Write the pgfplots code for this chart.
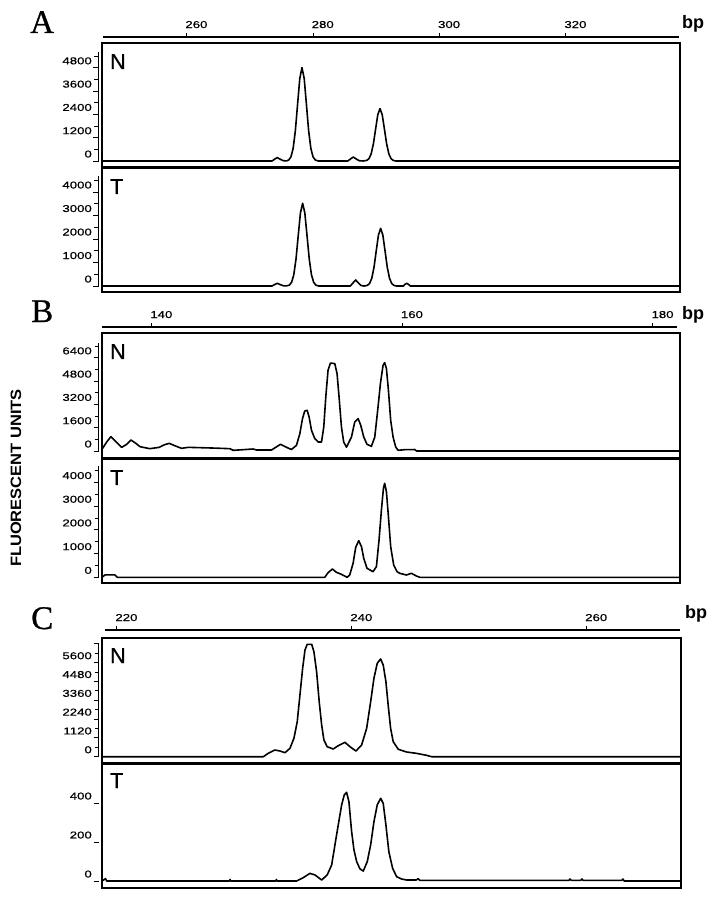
\documentclass[border=0pt]{standalone}
\usepackage{fontspec}
\setmainfont{Liberation Sans}
\newfontfamily\tickfont[FakeStretch=1.32, FakeBold=0.6]{Liberation Sans}
\newfontfamily\tagfont[FakeBold=0.8]{Liberation Sans}
\newfontfamily\panelfont[FakeBold=0.8]{Liberation Serif}
\newfontfamily\ylabfont[FakeStretch=1.1]{Liberation Sans}
\usepackage{pgfplots}
\pgfplotsset{compat=1.18}

\pgfplotsset{
  trace box/.style={
    scale only axis, anchor=north west, clip=false,
    axis line style={line width=1.8pt},
    xtick=\empty,
    ytick pos=left,
    tick align=outside,
    major tick length=5pt,
    minor tick length=4pt,
    every tick/.style={line width=0.9pt, black, xshift=-3.5pt},
    yticklabel style={font=\fontsize{10}{10}\tickfont, anchor=base east, inner sep=0pt, yshift=3.5pt, xshift=-5pt},
    scaled y ticks=false,
    /pgf/number format/1000 sep={},
    /pgf/number format/assume math mode=true,
  },
  trace/.style={black, line width=1.6pt, line join=round, no markers},
  bp axis/.style={
    scale only axis, anchor=north west, height=1pt,
    ymin=0, ymax=1, hide y axis,
    axis x line=top, x axis line style={-, line width=1.6pt},
    tick align=outside, major tick length=4pt,
    every tick/.style={line width=0.9pt, black},
    xticklabel style={font=\fontsize{10}{10}\tickfont, anchor=base west, inner sep=0pt, xshift=-1.5pt, yshift=5pt},
    /pgf/number format/assume math mode=true,
  },
}
\tikzset{tag/.style={anchor=north west, inner sep=0pt, font=\fontsize{21.5}{22}\tagfont},
  scale line/.style={line width=0.7pt, black}}

\begin{document}
\begin{tikzpicture}
\useasboundingbox (0pt,0pt) rectangle (716pt,-899pt);

% ---------------- panel A ----------------
\begin{axis}[bp axis, width=576pt, at={(103pt,-37pt)}, xmin=246.75, xmax=337.93,
  xtick={260,280,300,320}]
\end{axis}
\begin{axis}[trace box, width=578pt, height=124pt, at={(102pt,-43pt)},
  xmin=246.59, xmax=338.09, ymin=-309, ymax=6077,
  ytick={0,1200,2400,3600,4800}, minor ytick={600,1800,3000,4200,5400}]
\addplot[trace] coordinates {
(246.59,0) (273.5,0) (273.9,90) (274.34,175) (274.8,90) (275.3,15) (275.8,5)
(276.15,53) (276.50,211) (276.85,651) (277.20,1562) (277.55,2917) (277.90,4245)
(278.25,4810) (278.60,4245) (278.95,2917) (279.30,1562) (279.65,651) (280.00,211)
(280.35,53) (280.8,0) (285.5,0) (285.95,110) (286.37,205) (286.8,110) (287.3,15)
(287.9,0) (288.50,30) (288.85,119) (289.20,365) (289.55,877) (289.90,1638)
(290.25,2383) (290.60,2700) (290.95,2383) (291.30,1638) (291.65,877) (292.00,365)
(292.35,119) (292.70,30) (293.1,0) (338.09,0)};
\draw[scale line] ([xshift=-3.5pt]axis cs:246.59,0) -- ([xshift=-3.5pt]axis cs:246.59,5600);
\node[tag] at (rel axis cs:0,1) [xshift=8pt, yshift=-11pt] {N};
\end{axis}
\begin{axis}[trace box, width=578pt, height=124pt, at={(102pt,-168pt)},
  xmin=246.59, xmax=338.09, ymin=-255, ymax=5021,
  ytick={0,1000,2000,3000,4000}, minor ytick={500,1500,2500,3500,4500}]
\addplot[trace] coordinates {
(246.59,0) (273.5,0) (273.9,60) (274.34,115) (274.8,60) (275.3,10) (275.8,5)
(276.25,39) (276.60,155) (276.95,476) (277.30,1143) (277.65,2135) (278.00,3106)
(278.35,3520) (278.70,3106) (279.05,2135) (279.40,1143) (279.75,476) (280.10,155)
(280.45,39) (280.9,0) (285.9,0) (286.35,140) (286.75,255) (287.15,140) (287.6,20)
(288.1,0) (288.60,27) (288.95,108) (289.30,332) (289.65,797) (290.00,1489)
(290.35,2167) (290.70,2455) (291.05,2167) (291.40,1489) (291.75,797) (292.10,332)
(292.45,108) (292.80,27) (293.2,0) (294.3,0) (294.55,70) (294.83,115) (295.1,70)
(295.4,0) (338.09,0)};
\draw[scale line] ([xshift=-3.5pt]axis cs:246.59,0) -- ([xshift=-3.5pt]axis cs:246.59,4700);
\node[tag] at (rel axis cs:0,1) [xshift=8pt, yshift=-11pt] {T};
\end{axis}

% ---------------- panel B ----------------
\begin{axis}[bp axis, width=575pt, at={(102pt,-327pt)}, xmin=136.04, xmax=181.93,
  xtick={140,160,180}]
\end{axis}
\begin{axis}[trace box, width=578pt, height=125pt, at={(102pt,-333pt)},
  xmin=136.04, xmax=182.17, ymin=-481, ymax=8103,
  ytick={0,1600,3200,4800,6400}, minor ytick={800,2400,4000,5600,7200}]
\addplot[trace] coordinates {
(136.04,114) (136.4,600) (136.75,983) (137.2,600) (137.61,251) (138.0,450)
(138.35,754) (138.7,550) (139.07,297) (139.86,160) (140.6,250) (141.0,420)
(141.40,526) (141.8,380) (142.39,183) (142.92,251) (143.85,229) (145.0,200)
(146.24,160) (146.51,46) (147.3,90) (148.10,137) (148.37,69) (149.57,69)
(149.9,250) (150.29,460) (150.6,320) (151.16,100) (151.56,390) (151.83,1190)
(152.04,2220) (152.22,2745) (152.41,2795) (152.57,2335) (152.76,1420) (153.02,850)
(153.29,620) (153.56,618) (153.74,1650) (153.90,3710) (154.08,5540) (154.27,6040)
(154.62,6000) (154.80,5310) (154.96,3710) (155.15,1650) (155.33,618) (155.55,260)
(155.95,960) (156.21,1990) (156.48,2225) (156.69,1765) (156.93,960) (157.19,460)
(157.54,320) (157.81,960) (158.07,3020) (158.26,4630) (158.47,5880) (158.60,6070)
(158.74,5660) (158.90,4170) (159.08,2110) (159.27,960) (159.48,275) (159.67,50)
(160.2,90) (161.00,100) (161.14,0) (182.17,0)};
\draw[scale line] ([xshift=-3.5pt]axis cs:136.04,0) -- ([xshift=-3.5pt]axis cs:136.04,7400);
\node[tag] at (rel axis cs:0,1) [xshift=8pt, yshift=-11pt] {N};
\end{axis}
\begin{axis}[trace box, width=578pt, height=124pt, at={(102pt,-459pt)},
  xmin=136.04, xmax=182.17, ymin=-241, ymax=4992,
  ytick={0,1000,2000,3000,4000}, minor ytick={500,1500,2500,3500,4500}]
\addplot[trace] coordinates {
(136.04,0) (136.28,100) (137.07,100) (137.27,0) (153.82,0) (154.08,195)
(154.43,350) (154.75,210) (155.15,125) (155.60,0) (155.81,97) (156.08,590)
(156.29,1265) (156.53,1545) (156.75,1290) (156.93,800) (157.19,380) (157.67,236)
(157.94,447) (158.15,1575) (158.34,2840) (158.50,3755) (158.60,3966) (158.74,3610)
(158.90,2557) (159.08,1290) (159.32,519) (159.59,236) (159.80,170) (160.33,97)
(160.73,170) (161.13,55) (161.40,0) (182.17,0)};
\draw[scale line] ([xshift=-3.5pt]axis cs:136.04,0) -- ([xshift=-3.5pt]axis cs:136.04,4700);
\node[tag] at (rel axis cs:0,1) [xshift=8pt, yshift=-11pt] {T};
\end{axis}

% ---------------- panel C ----------------
\begin{axis}[bp axis, width=575pt, at={(105pt,-630pt)}, xmin=219.0, xmax=267.96,
  xtick={220,240,260}]
\end{axis}
\begin{axis}[trace box, width=579pt, height=125pt, at={(102pt,-638pt)},
  axis line style={line width=2.6pt},
  xmin=218.75, xmax=268.04, ymin=-375, ymax=7071,
  ytick={0,1120,2240,3360,4480,5600,6720},
  yticklabels={0,1120,2240,3360,4480,5600,{}},
  minor ytick={560,1680,2800,3920,5040,6160}]
\addplot[trace] coordinates {
(218.75,0) (232.48,0) (232.90,200) (233.47,400) (233.90,340) (234.33,240)
(234.75,500) (235.09,1100) (235.37,2085) (235.60,3675) (235.83,5265) (236.03,6356)
(236.22,6696) (236.60,6696) (236.79,6255) (237.02,5063) (237.24,3276) (237.45,1888)
(237.64,995) (237.92,596) (238.43,459) (238.86,655) (239.43,858) (239.86,596)
(240.37,340) (240.85,697) (241.28,1692) (241.62,3276) (241.90,4670) (242.18,5564)
(242.47,5820) (242.69,5463) (242.92,4468) (243.11,3080) (243.32,1692) (243.54,894)
(243.97,441) (244.68,280) (245.53,200) (246.38,83) (246.81,0) (268.04,0)};
\draw[scale line] ([xshift=-3.5pt]axis cs:218.75,0) -- ([xshift=-3.5pt]axis cs:218.75,6720);
\node[tag] at (rel axis cs:0,1) [xshift=8pt, yshift=-10pt] {N};
\end{axis}
\begin{axis}[trace box, width=579pt, height=124pt, at={(102pt,-764pt)},
  xmin=218.75, xmax=268.04, ymin=-36, ymax=600,
  ytick={0,200,400}]
\addplot[trace] coordinates {
(218.75,0) (219.05,12) (219.15,0) (229.6,0) (229.65,8) (229.7,0) (233.55,0)
(233.6,8) (233.65,0) (235.32,0) (235.88,17) (236.45,39) (236.88,31) (237.45,5)
(237.92,31) (238.30,82) (238.58,185) (238.86,287) (239.15,390) (239.37,441)
(239.57,455) (239.77,407) (240.00,253) (240.20,159) (240.43,99) (240.71,62)
(240.99,51) (241.33,99) (241.62,185) (241.90,304) (242.18,390) (242.47,424)
(242.69,398) (242.92,287) (243.17,150) (243.49,65) (243.83,22) (244.26,10)
(244.68,5) (245.5,5) (245.67,12) (245.8,3) (258.5,3) (258.59,10) (258.7,3)
(259.5,3) (259.61,10) (259.7,3) (263.0,3) (263.10,10) (263.2,0) (268.04,0)};
\node[tag] at (rel axis cs:0,1) [xshift=8pt, yshift=-9pt] {T};
\end{axis}

% ---------------- labels ----------------
\node[anchor=base west, inner sep=0pt, font=\fontsize{33}{33}\panelfont] at (30pt,-33pt) {A};
\node[anchor=base west, inner sep=0pt, font=\fontsize{33}{33}\panelfont] at (31pt,-322pt) {B};
\node[anchor=base west, inner sep=0pt, font=\fontsize{33}{33}\panelfont] at (31pt,-629pt) {C};
\node[anchor=base west, inner sep=0pt, font=\fontsize{18}{18}\bfseries] at (682pt,-29pt) {bp};
\node[anchor=base west, inner sep=0pt, font=\fontsize{18}{18}\bfseries] at (682pt,-319pt) {bp};
\node[anchor=base west, inner sep=0pt, font=\fontsize{18}{18}\bfseries] at (685pt,-618pt) {bp};
\node[rotate=90, inner sep=0pt, font=\fontsize{15}{15}\ylabfont\bfseries] at (16pt,-478pt) {FLUORESCENT UNITS};
\end{tikzpicture}
\end{document}
